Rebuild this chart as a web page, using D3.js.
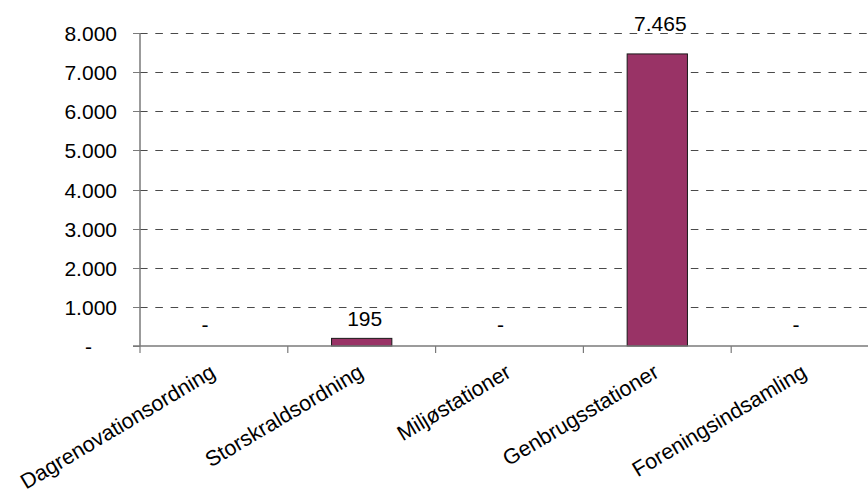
<!DOCTYPE html>
<html>
<head>
<meta charset="utf-8">
<script src="https://cdn.jsdelivr.net/npm/d3@7"></script>
<style>
  html, body { margin: 0; padding: 0; background: #fff; }
  svg { display: block; }
  text { font-family: "Liberation Sans", Arial, sans-serif; fill: #000; }
</style>
</head>
<body>
<svg id="chart" width="868" height="493"></svg>
<script>
const categories = ["Dagrenovationsordning", "Storskraldsordning", "Miljøstationer", "Genbrugsstationer", "Foreningsindsamling"];
const values = [0, 195, 0, 7465, 0];
const yTicks = [0, 1000, 2000, 3000, 4000, 5000, 6000, 7000, 8000];

const fmt = v => v === 0 ? "-" : d3.format(",")(v).replace(/,/g, ".");

const svg = d3.select("#chart");
const plotLeft = 140, plotRight = 879, plotTop = 33, plotBottom = 346;

const x = d3.scaleBand().domain(categories).range([plotLeft, plotRight]).padding(0);
const y = d3.scaleLinear().domain([0, 8000]).range([plotBottom, plotTop]);
const snap = v => Math.round(v) + 0.5;
const barW = x.bandwidth() * 0.408;

// gridlines
svg.append("g").selectAll("line").data(yTicks.filter(t => t > 0)).join("line")
  .attr("x1", plotLeft).attr("x2", 868)
  .attr("y1", d => snap(y(d))).attr("y2", d => snap(y(d)))
  .attr("stroke", "#4a4a4a").attr("stroke-width", 1)
  .attr("stroke-dasharray", "7.6,7.7");

// bars
svg.append("g").selectAll("rect").data(values.map((v, i) => ({c: categories[i], v})).filter(d => d.v > 0)).join("rect")
  .attr("x", d => x(d.c) + x.bandwidth() / 2 - barW / 2)
  .attr("width", barW)
  .attr("y", d => y(d.v))
  .attr("height", d => y(0) - y(d.v))
  .attr("fill", "#993366")
  .attr("stroke", "#1a1a1a").attr("stroke-width", 1);

// y axis
const yAxis = d3.axisLeft(y).tickValues(yTicks).tickSize(7).tickFormat(fmt);
const gy = svg.append("g").attr("transform", `translate(${plotLeft},0)`).call(yAxis);
gy.select(".domain").attr("stroke", "#7a7a7a").attr("stroke-width", 1.5).attr("d", `M0,${plotTop}V${plotBottom}`);
gy.selectAll(".tick").attr("transform", d => `translate(0,${snap(y(d))})`);
gy.selectAll(".tick line").attr("stroke", "#7a7a7a").attr("stroke-width", 1);
gy.selectAll(".tick text")
  .attr("font-size", 21).attr("font-family", "Liberation Sans, Arial, sans-serif").attr("fill", "#000")
  .attr("x", d => d === 0 ? -48 : -23).attr("dy", "0.35em");

// x axis
const xAxis = d3.axisBottom(x).tickSize(0).tickFormat("");
const gx = svg.append("g").attr("transform", `translate(0,${plotBottom})`).call(xAxis);
gx.select(".domain").attr("stroke", "#7a7a7a").attr("stroke-width", 1.5).attr("d", `M${plotLeft - 7},0H868`);
gx.append("g").selectAll("line").data(categories.map(c => x(c)).concat([x(categories[4]) + x.bandwidth()])).join("line")
  .attr("x1", d => d).attr("x2", d => d).attr("y1", 0).attr("y2", 7)
  .attr("stroke", "#7a7a7a").attr("stroke-width", 1.2);

// category labels
svg.append("g").selectAll("text").data(categories).join("text")
  .attr("transform", d => `translate(${x(d) + x.bandwidth() / 2 + 3},${plotBottom + 30}) rotate(-30.8)`)
  .attr("text-anchor", "end")
  .attr("font-size", 21.5)
  .text(d => d);

// value labels
const maxV = d3.max(values);
svg.append("g").selectAll("text").data(values.map((v, i) => ({c: categories[i], v}))).join("text")
  .attr("x", d => x(d.c) + x.bandwidth() / 2 + (d.v === 0 ? -9 : 3))
  .attr("y", d => d.v === 0 ? y(0) - 14 : y(d.v) - (d.v === maxV ? 23 : 12))
  .attr("text-anchor", "middle")
  .attr("font-size", 21)
  .text(d => fmt(d.v));
</script>
</body>
</html>
